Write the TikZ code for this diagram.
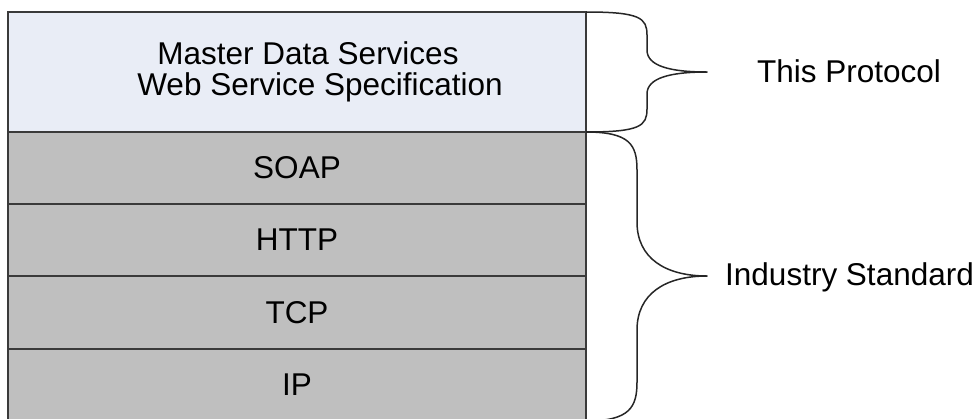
\documentclass[tikz,border=0pt]{standalone}
\usepackage{fontspec}
\setmainfont{Liberation Sans}
\usetikzlibrary{positioning}
\definecolor{specfill}{HTML}{E9EDF6}
\definecolor{stdfill}{HTML}{BFBFBF}
\definecolor{edgegray}{HTML}{3A3A3A}

\begin{document}
\begin{tikzpicture}[x=1pt,y=-1pt,{layer/.style={rectangle,draw=edgegray,line width=1.6pt,fill=stdfill,minimum width=578pt,minimum height=72pt,inner sep=0pt,outer sep=0pt,font=\fontsize{31.5}{31}\selectfont}},{toplayer/.style={layer,fill=specfill,minimum height=120pt,align=center}},{bracest/.style={draw=black!85,line width=1.5pt,line join=round}},{side/.style={anchor=base west,inner sep=0pt,font=\fontsize{31.5}{31}\selectfont}}]
	\useasboundingbox (0,0) rectangle (976,418);
	%%protocol stack
	\node [toplayer] (mds) at (297,72) {\hspace*{22pt}Master Data Services\\\hspace*{46pt}Web Service Specification};
	\node [layer,below=0pt of mds] (soap) {SOAP};
	\node [layer,below=0pt of soap] (http) {HTTP};
	\node [layer,below=0pt of http,minimum height=73pt] (tcp) {TCP};
	\node [layer,below=0pt of tcp] (ip) {IP};

	%%braces
	\draw [bracest] (mds.north east) .. controls (640,12) and (647,18) .. (647,35) -- (647,50) .. controls (647,66) and (670,72) .. (707,72) .. controls (670,72) and (647,78) .. (647,94) -- (647,109) .. controls (647,126) and (640,132) .. (mds.south east);
	\draw [bracest] (soap.north east) .. controls (630,132) and (637,145) .. (637,170) -- (637,222) .. controls (637,258) and (665,276) .. (707,276) .. controls (665,276) and (637,294) .. (637,330) -- (637,382) .. controls (637,407) and (630,421) .. (ip.south east);

	%%labels
	\node [side] (this) at (757,82) {This Protocol};
	\node [side] (industry) at (725,285) {Industry Standard};
\end{tikzpicture}
\end{document}
